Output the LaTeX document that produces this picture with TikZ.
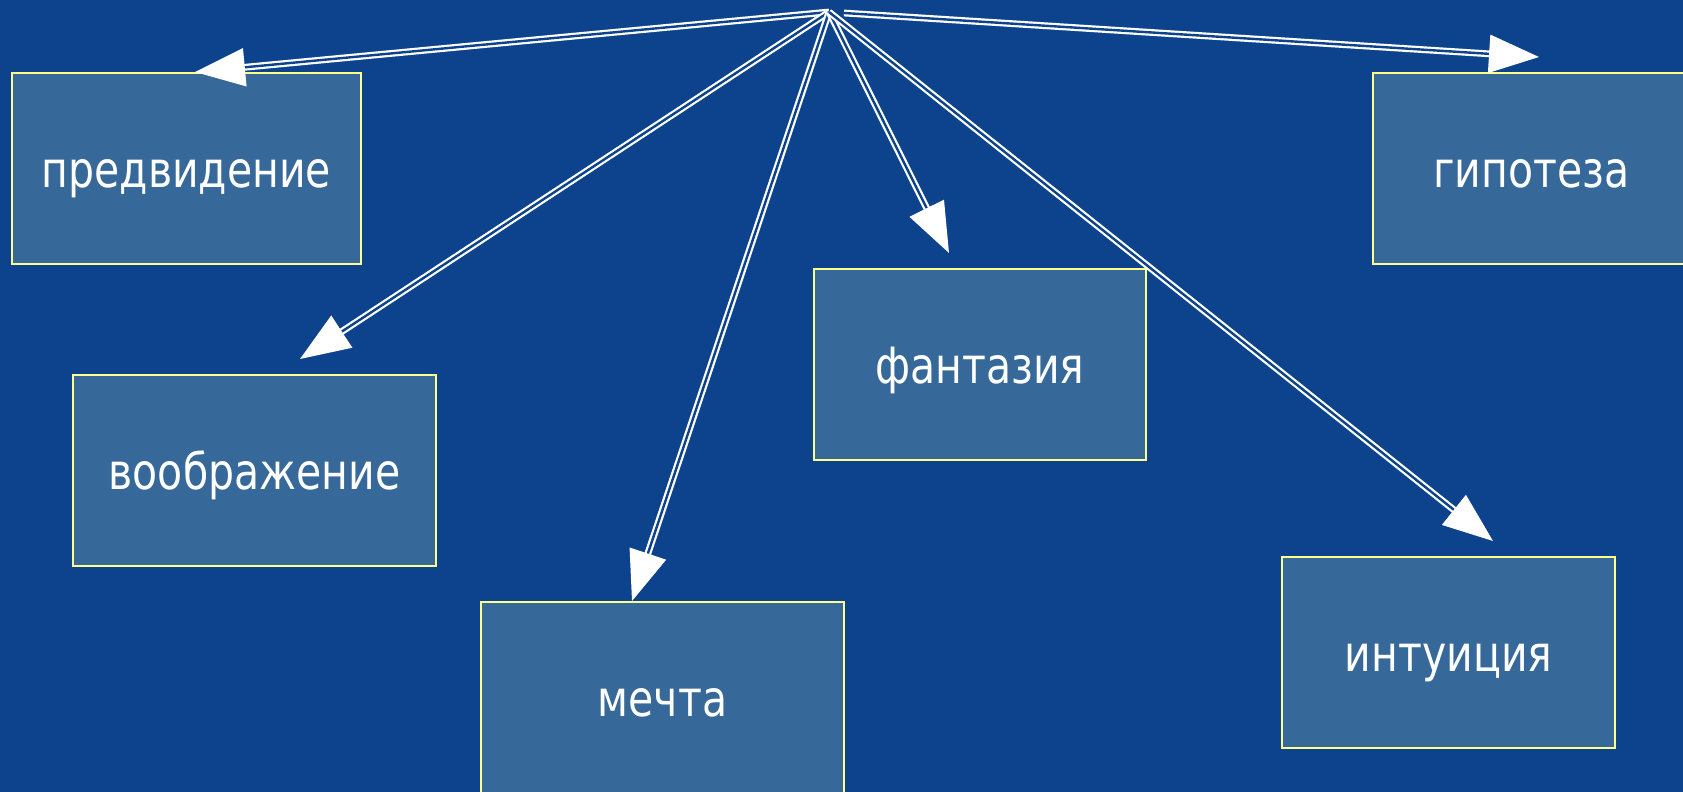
\documentclass[tikz,border=0pt]{standalone}
\usepackage{fontspec}
\setmainfont{DejaVu Sans}[FakeStretch=0.82]
\usetikzlibrary{arrows.meta}
\definecolor{bgblue}{RGB}{12,67,140}
\definecolor{boxfill}{RGB}{54,104,154}
\definecolor{boxline}{RGB}{255,255,140}
\tikzset{
  box/.style={draw=boxline, line width=2pt, fill=boxfill, text=white,
    inner sep=0pt, text height=37pt, text depth=0pt,
    font=\fontsize{50}{60}\selectfont},
  conn/.style={draw=white, line width=2.2pt, double=bgblue, double distance=2.4pt,
    -{Triangle[length=50pt,width=38pt]}},
}
\begin{document}
\begin{tikzpicture}[x=1pt,y=-1pt]
\useasboundingbox (0,0) rectangle (1683,792);
\clip (0,0) rectangle (1683,792);
\fill[bgblue] (0,0) rectangle (1683,792);

\node[box, minimum width=349pt, minimum height=191pt] (p) at (186.5,168.5) {предвидение};
\node[box, minimum width=363pt, minimum height=191pt] (v) at (254.5,470.5) {воображение};
\node[box, minimum width=363pt, minimum height=191pt] (m) at (662.5,697.5) {мечта};
\node[box, minimum width=332pt, minimum height=191pt] (f) at (980,364.5) {фантазия};
\node[box, minimum width=317pt, minimum height=191pt] (g) at (1531.5,168.5) {гипотеза};
\node[box, minimum width=333pt, minimum height=191pt] (i) at (1448.5,652.5) {интуиция};

\coordinate (o) at (829,12);
\coordinate (o2) at (844,13);
\coordinate (tp) at (195,72);
\coordinate (tv) at (300,359);
\coordinate (tm) at (632,601);
\coordinate (tf) at (949,253);
\coordinate (tg) at (1539,57);
\coordinate (ti) at (1493,541);

\draw[conn] (o) -- (tp);
\draw[conn] (o) -- (tv);
\draw[conn] (o) -- (tm);
\draw[conn] (o) -- (tf);
\draw[conn] (o) -- (ti);
\draw[conn] (o2) -- (tg);
\end{tikzpicture}
\end{document}
